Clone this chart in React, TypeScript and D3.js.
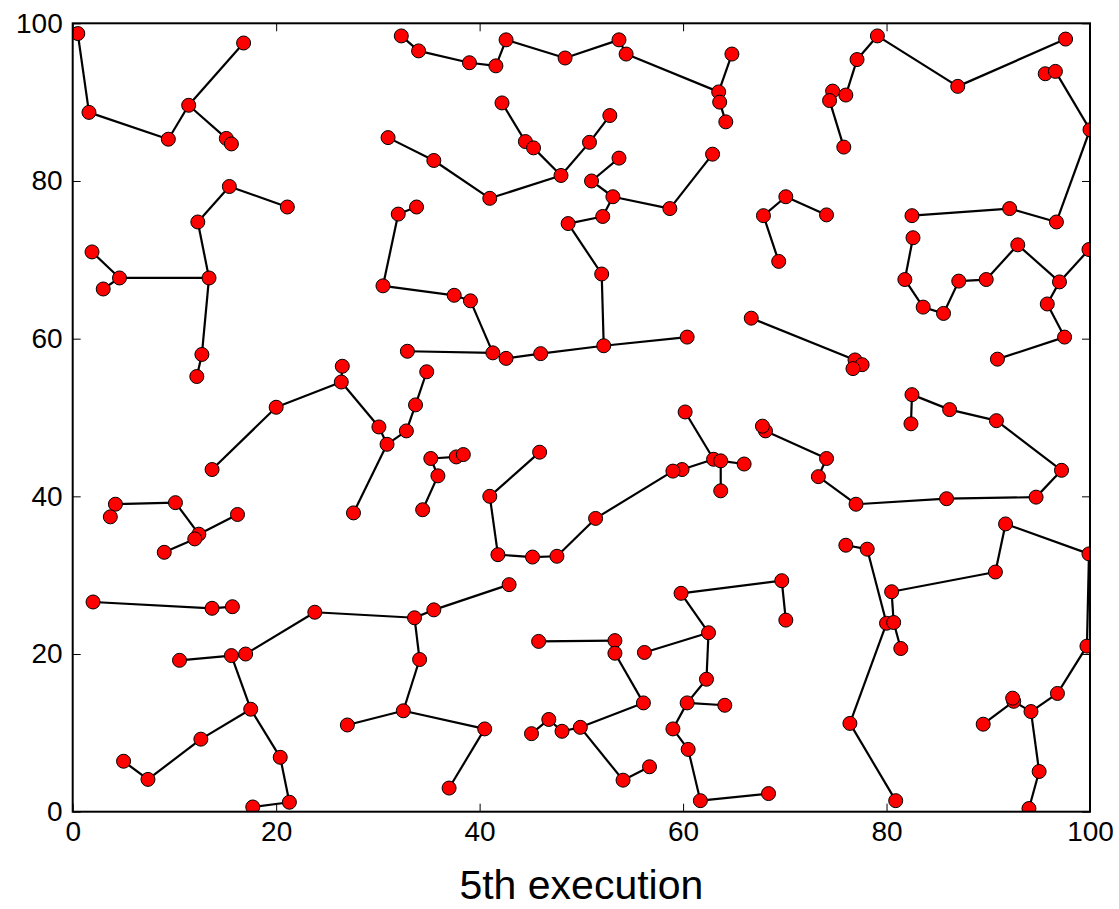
import React, { useEffect, useRef } from 'react';
import * as d3 from 'd3';

// tick values, same on both axes
const tickValues = [0, 20, 40, 60, 80, 100];
const xLabel = '5th execution';

// points: [id, x, y]
const nodes: [string, number, number][] = [
  ['A1', 0.5, 98.7], ['A2', 1.6, 88.7], ['A3', 9.4, 85.3], ['A4', 11.4, 89.6], ['A5', 16.8, 97.5], ['A6', 15.1, 85.4], ['A7', 15.6, 84.7],
  ['B1', 15.4, 79.3], ['B2', 21.1, 76.7], ['B3', 12.3, 74.8], ['B4', 13.4, 67.7], ['B5', 4.6, 67.7], ['B6', 1.9, 71.0], ['B7', 3.0, 66.3], ['B8', 12.7, 58.0], ['B9', 12.2, 55.2],
  ['C1', 32.3, 98.4], ['C2', 34.0, 96.5], ['C3', 39.0, 95.0], ['C4', 41.6, 94.6], ['C5', 42.6, 97.9], ['C6', 48.4, 95.6], ['C7', 53.7, 97.9], ['C8', 54.4, 96.1], ['C9', 63.5, 91.3], ['C10', 64.8, 96.1], ['C11', 63.6, 90.0], ['C12', 64.2, 87.5],
  ['D1', 42.2, 89.9], ['D2', 44.5, 85.0], ['D3', 45.3, 84.2], ['D4', 48.0, 80.7], ['D5', 50.8, 84.9], ['D6', 52.8, 88.3], ['D7', 41.0, 77.8], ['D8', 35.5, 82.6], ['D9', 31.0, 85.5],
  ['E1', 53.7, 82.9], ['E2', 51.0, 80.0], ['E3', 53.1, 78.0], ['E4', 58.7, 76.5], ['E5', 62.9, 83.4], ['E6', 52.1, 75.5], ['E7', 48.7, 74.6], ['E8', 52.0, 68.2], ['E9', 52.2, 59.1], ['E10', 60.4, 60.2],
  ['E11', 46.0, 58.1], ['E12', 42.6, 57.5], ['E13', 41.3, 58.2], ['E14', 32.9, 58.4], ['E15', 39.1, 64.8], ['E16', 37.5, 65.5], ['E17', 30.5, 66.7], ['E18', 32.0, 75.8], ['E19', 33.8, 76.7],
  ['F1', 79.1, 98.4], ['F2', 77.1, 95.4], ['F3', 76.0, 90.9], ['F4', 74.7, 91.4], ['F5', 74.4, 90.2], ['F6', 75.8, 84.3], ['F7', 87.0, 92.0], ['F8', 97.6, 98.0], ['F9', 95.6, 93.6], ['F10', 96.6, 93.9],
  ['F11', 100.0, 86.5], ['F12', 96.7, 74.8], ['F13', 92.1, 76.5], ['F14', 82.5, 75.6],
  ['G1', 82.6, 72.8], ['G2', 81.8, 67.5], ['G3', 83.6, 64.0], ['G4', 85.6, 63.2], ['G5', 87.1, 67.3], ['G6', 89.8, 67.5], ['G7', 92.9, 71.9], ['G8', 97.0, 67.2], ['G9', 99.9, 71.3], ['G10', 95.8, 64.4], ['G11', 97.5, 60.2], ['G12', 90.9, 57.4],
  ['H1', 70.1, 78.0], ['H2', 67.9, 75.6], ['H3', 74.1, 75.7], ['H4', 69.4, 69.8],
  ['I1', 66.7, 62.6], ['I2', 76.9, 57.3], ['I3', 77.6, 56.7], ['I4', 76.7, 56.2],
  ['J1', 82.5, 52.9], ['J2', 82.4, 49.2], ['J3', 86.2, 51.0], ['J4', 90.8, 49.6], ['J5', 97.2, 43.3], ['J6', 94.7, 39.9], ['J7', 85.9, 39.7], ['J8', 77.0, 39.0], ['J9', 73.3, 42.5], ['J10', 74.1, 44.8], ['J11', 68.1, 48.3], ['J12', 67.8, 48.9],
  ['K1', 60.2, 50.7], ['K2', 63.0, 44.7], ['K3', 63.7, 44.5], ['K4', 66.0, 44.1], ['K5', 63.7, 40.7], ['K6', 59.9, 43.4], ['K7', 59.0, 43.2], ['K8', 51.4, 37.2], ['K9', 47.6, 32.4], ['K10', 45.2, 32.3], ['K11', 41.8, 32.6], ['K12', 41.0, 40.0], ['K13', 45.9, 45.6],
  ['L1', 34.8, 55.8], ['L2', 33.7, 51.6], ['L3', 32.8, 48.3], ['L4', 30.9, 46.6], ['L5', 30.1, 48.8], ['L6', 26.4, 54.5], ['L7', 26.5, 56.5], ['L8', 20.0, 51.3], ['L9', 13.7, 43.4], ['L10', 27.6, 37.9],
  ['M1', 35.2, 44.8], ['M2', 37.7, 45.0], ['M3', 38.4, 45.3], ['M4', 35.9, 42.6], ['M5', 34.4, 38.3],
  ['N1', 4.2, 39.0], ['N2', 3.7, 37.4], ['N3', 10.1, 39.2], ['N4', 12.4, 35.2], ['N5', 12.0, 34.6], ['N6', 16.2, 37.7], ['N7', 9.0, 32.9],
  ['O1', 2.0, 26.6], ['O2', 13.7, 25.8], ['O3', 15.7, 26.0],
  ['P1', 10.5, 19.2], ['P2', 15.6, 19.8], ['P3', 17.0, 20.0], ['P4', 23.8, 25.3], ['P5', 33.6, 24.6], ['P6', 35.5, 25.6], ['P7', 42.9, 28.8], ['P8', 34.1, 19.3], ['P9', 32.5, 12.8], ['P10', 27.0, 11.0],
  ['P11', 40.5, 10.5], ['P12', 37.0, 3.0], ['P13', 17.5, 13.0], ['P14', 12.6, 9.2], ['P15', 7.4, 4.1], ['P16', 5.0, 6.4], ['P17', 20.4, 6.9], ['P18', 21.3, 1.2], ['P19', 17.7, 0.6],
  ['Q1', 45.8, 21.6], ['Q2', 53.3, 21.7], ['Q3', 53.3, 20.1], ['Q4', 56.1, 13.8], ['Q5', 49.9, 10.7], ['Q6', 48.1, 10.2], ['Q7', 46.8, 11.7], ['Q8', 45.1, 9.9], ['Q9', 54.1, 4.0], ['Q10', 56.7, 5.7],
  ['R1', 59.8, 27.7], ['R2', 69.7, 29.3], ['R3', 70.1, 24.3], ['R4', 62.5, 22.7], ['R5', 56.2, 20.2], ['R6', 62.3, 16.8], ['R7', 60.4, 13.8], ['R8', 64.1, 13.5], ['R9', 59.0, 10.5], ['R10', 60.5, 7.9], ['R11', 61.7, 1.4], ['R12', 68.4, 2.3],
  ['S1', 76.0, 33.8], ['S2', 78.1, 33.3], ['S3', 80.0, 23.9], ['S4', 80.7, 24.0], ['S5', 80.5, 27.9], ['S6', 81.4, 20.7], ['S7', 76.4, 11.2], ['S8', 80.9, 1.4], ['S9', 90.7, 30.4], ['S10', 91.7, 36.5],
  ['S11', 99.9, 32.7], ['S12', 99.7, 21.0], ['S13', 96.8, 15.0], ['S14', 94.2, 12.7], ['S15', 92.5, 14.0], ['S16', 92.4, 14.4], ['S17', 89.5, 11.1], ['S18', 95.0, 5.1], ['S19', 94.0, 0.4],
];

// connections between points
const links: [string, string][] = [
  ['A1', 'A2'], ['A2', 'A3'], ['A3', 'A4'], ['A4', 'A5'], ['A4', 'A6'], ['A6', 'A7'],
  ['B1', 'B2'], ['B1', 'B3'], ['B3', 'B4'], ['B4', 'B5'], ['B5', 'B6'], ['B5', 'B7'], ['B4', 'B8'], ['B8', 'B9'],
  ['C1', 'C2'], ['C2', 'C3'], ['C3', 'C4'], ['C4', 'C5'], ['C5', 'C6'], ['C6', 'C7'], ['C7', 'C8'], ['C8', 'C9'], ['C9', 'C10'], ['C9', 'C11'], ['C11', 'C12'],
  ['D1', 'D2'], ['D2', 'D3'], ['D3', 'D4'], ['D4', 'D5'], ['D5', 'D6'], ['D4', 'D7'], ['D7', 'D8'], ['D8', 'D9'],
  ['E1', 'E2'], ['E2', 'E3'], ['E3', 'E4'], ['E4', 'E5'], ['E3', 'E6'], ['E6', 'E7'], ['E7', 'E8'], ['E8', 'E9'], ['E9', 'E10'], ['E9', 'E11'], ['E11', 'E12'], ['E12', 'E13'],
  ['E13', 'E14'], ['E13', 'E15'], ['E15', 'E16'], ['E16', 'E17'], ['E17', 'E18'], ['E18', 'E19'],
  ['F1', 'F2'], ['F2', 'F3'], ['F3', 'F4'], ['F4', 'F5'], ['F5', 'F6'], ['F1', 'F7'], ['F7', 'F8'], ['F9', 'F10'], ['F10', 'F11'], ['F11', 'F12'], ['F12', 'F13'], ['F13', 'F14'],
  ['G1', 'G2'], ['G2', 'G3'], ['G3', 'G4'], ['G4', 'G5'], ['G5', 'G6'], ['G6', 'G7'], ['G7', 'G8'], ['G8', 'G9'], ['G8', 'G10'], ['G10', 'G11'], ['G11', 'G12'],
  ['H1', 'H2'], ['H1', 'H3'], ['H2', 'H4'],
  ['I1', 'I2'], ['I2', 'I3'], ['I2', 'I4'],
  ['J1', 'J2'], ['J1', 'J3'], ['J3', 'J4'], ['J4', 'J5'], ['J5', 'J6'], ['J6', 'J7'], ['J7', 'J8'], ['J8', 'J9'], ['J9', 'J10'], ['J10', 'J11'], ['J11', 'J12'],
  ['K1', 'K2'], ['K2', 'K3'], ['K3', 'K4'], ['K3', 'K5'], ['K2', 'K6'], ['K6', 'K7'], ['K7', 'K8'], ['K8', 'K9'], ['K9', 'K10'], ['K10', 'K11'], ['K11', 'K12'], ['K12', 'K13'],
  ['L1', 'L2'], ['L2', 'L3'], ['L3', 'L4'], ['L4', 'L5'], ['L5', 'L6'], ['L6', 'L7'], ['L6', 'L8'], ['L8', 'L9'], ['L4', 'L10'],
  ['M1', 'M2'], ['M2', 'M3'], ['M1', 'M4'], ['M4', 'M5'],
  ['N1', 'N2'], ['N1', 'N3'], ['N3', 'N4'], ['N4', 'N5'], ['N4', 'N6'], ['N5', 'N7'],
  ['O1', 'O2'], ['O2', 'O3'],
  ['P1', 'P2'], ['P2', 'P3'], ['P3', 'P4'], ['P4', 'P5'], ['P5', 'P6'], ['P6', 'P7'], ['P5', 'P8'], ['P8', 'P9'], ['P9', 'P10'], ['P9', 'P11'], ['P11', 'P12'],
  ['P2', 'P13'], ['P13', 'P14'], ['P14', 'P15'], ['P15', 'P16'], ['P13', 'P17'], ['P17', 'P18'], ['P18', 'P19'],
  ['Q1', 'Q2'], ['Q2', 'Q3'], ['Q3', 'Q4'], ['Q4', 'Q5'], ['Q5', 'Q6'], ['Q6', 'Q7'], ['Q7', 'Q8'], ['Q5', 'Q9'], ['Q9', 'Q10'],
  ['R1', 'R2'], ['R2', 'R3'], ['R1', 'R4'], ['R4', 'R5'], ['R4', 'R6'], ['R6', 'R7'], ['R7', 'R8'], ['R7', 'R9'], ['R9', 'R10'], ['R10', 'R11'], ['R11', 'R12'],
  ['S1', 'S2'], ['S2', 'S3'], ['S3', 'S4'], ['S4', 'S5'], ['S4', 'S6'], ['S3', 'S7'], ['S7', 'S8'], ['S5', 'S9'], ['S9', 'S10'], ['S10', 'S11'], ['S11', 'S12'],
  ['S12', 'S13'], ['S13', 'S14'], ['S14', 'S15'], ['S15', 'S16'], ['S15', 'S17'], ['S14', 'S18'], ['S18', 'S19'],
];

const W = 1119;
const H = 909;
const margin = { top: 23.3, right: 29, bottom: 97.3, left: 72.7 };
const FONT = '"Liberation Sans", Arial, sans-serif';

const Chart = () => {
  const ref = useRef<SVGSVGElement>(null);

  useEffect(() => {
    const width = W - margin.left - margin.right;
    const height = H - margin.top - margin.bottom;

    const svg = d3.select(ref.current);
    svg.selectAll('*').remove();

    const g = svg.append('g').attr('transform', 'translate(' + margin.left + ',' + margin.top + ')');

    const x = d3.scaleLinear().domain([0, 100]).range([0, width]);
    const y = d3.scaleLinear().domain([0, 100]).range([height, 0]);

    svg
      .append('defs')
      .append('clipPath')
      .attr('id', 'plot-clip')
      .append('rect')
      .attr('width', width)
      .attr('height', height);

    const byId = new Map(nodes.map((n) => [n[0], n]));

    const plot = g.append('g').attr('clip-path', 'url(#plot-clip)');

    plot
      .selectAll('line.edge')
      .data(links)
      .enter()
      .append('line')
      .attr('class', 'edge')
      .attr('x1', (d) => x(byId.get(d[0])![1]))
      .attr('y1', (d) => y(byId.get(d[0])![2]))
      .attr('x2', (d) => x(byId.get(d[1])![1]))
      .attr('y2', (d) => y(byId.get(d[1])![2]))
      .style('stroke', '#000')
      .style('stroke-width', 2.2);

    plot
      .selectAll('circle')
      .data(nodes)
      .enter()
      .append('circle')
      .attr('cx', (d) => x(d[1]))
      .attr('cy', (d) => y(d[2]))
      .attr('r', 7)
      .style('fill', '#ff0000')
      .style('stroke', '#000')
      .style('stroke-width', 1);

    // axes, ticks pointing inwards on all four sides
    const styleAxis = (sel) => {
      sel.select('.domain').remove();
      sel.selectAll('.tick line').attr('stroke', '#000').attr('stroke-width', 1);
      sel.selectAll('text').attr('fill', '#000');
      sel.attr('font-family', FONT).attr('font-size', 28);
    };

    g.append('g')
      .attr('transform', 'translate(0,' + height + ')')
      .call(d3.axisBottom(x).tickValues(tickValues).tickSize(-8).tickPadding(9.5))
      .call(styleAxis);

    g.append('g')
      .call(d3.axisLeft(y).tickValues(tickValues).tickSize(-8).tickPadding(10))
      .call(styleAxis);

    g.append('g')
      .call(d3.axisTop(x).tickValues(tickValues).tickSize(-8).tickFormat(() => ''))
      .call(styleAxis);

    g.append('g')
      .attr('transform', 'translate(' + width + ',0)')
      .call(d3.axisRight(y).tickValues(tickValues).tickSize(-8).tickFormat(() => ''))
      .call(styleAxis);

    g.append('rect')
      .attr('width', width)
      .attr('height', height)
      .style('fill', 'none')
      .style('stroke', '#000')
      .style('stroke-width', 2);

    svg
      .append('text')
      .attr('x', margin.left + width / 2)
      .attr('y', 899)
      .attr('text-anchor', 'middle')
      .attr('font-family', FONT)
      .attr('font-size', 41)
      .attr('fill', '#000')
      .text(xLabel);
  }, []);

  return <svg ref={ref} width={W} height={H} style={{ display: 'block', background: '#fff' }} />;
};

export default function App() {
  return (
    <div style={{ position: 'absolute', left: 0, top: 0 }}>
      <Chart />
    </div>
  );
}
